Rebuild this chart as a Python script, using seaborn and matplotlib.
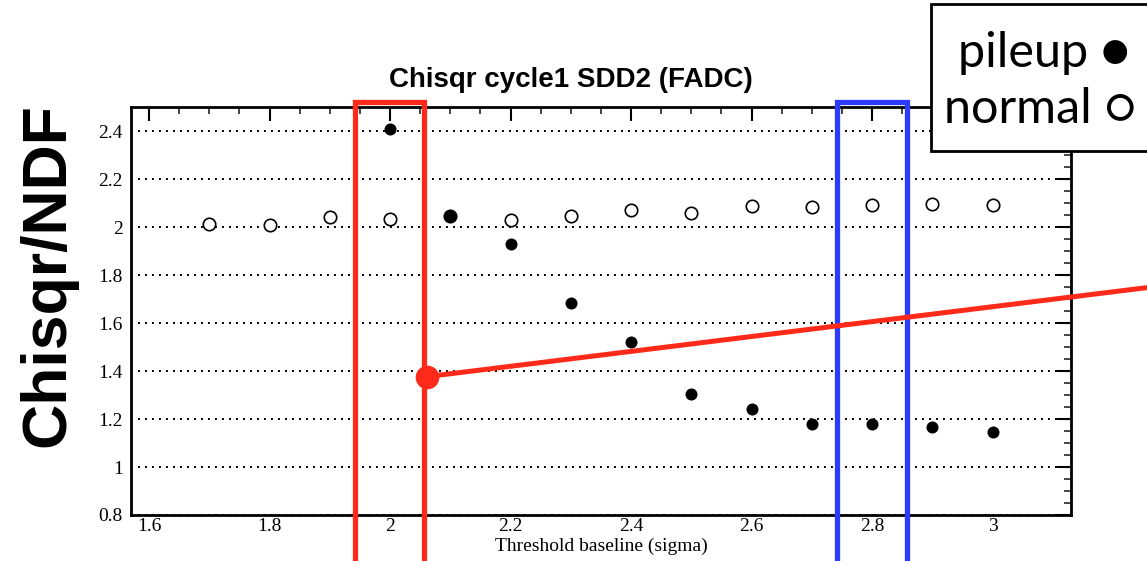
import numpy as np
import pandas as pd
import seaborn as sns
import matplotlib.pyplot as plt
from matplotlib.patches import Rectangle
from matplotlib.ticker import MultipleLocator

# threshold values (sigma)
thr_pileup = [2.0, 2.1, 2.2, 2.3, 2.4, 2.5, 2.6, 2.7, 2.8, 2.9, 3.0]
chi_pileup = [2.41, 2.048, 1.93, 1.685, 1.52, 1.306, 1.243, 1.18, 1.18, 1.168, 1.147]

thr_normal = [1.7, 1.8, 1.9, 2.0, 2.1, 2.2, 2.3, 2.4, 2.5, 2.6, 2.7, 2.8, 2.9, 3.0]
chi_normal = [2.014, 2.01, 2.043, 2.035, 2.048, 2.03, 2.048, 2.07, 2.06, 2.09, 2.085, 2.093, 2.097, 2.093]

# highlight boxes / arrow line (data coords)
red_box = (1.941, 2.057)
blue_box = (2.742, 2.858)
box_top = 2.522
red_line_x = [2.062, 3.257]
red_line_y = [1.377, 1.748]

df_p = pd.DataFrame({'thr': thr_pileup, 'chi': chi_pileup})
df_n = pd.DataFrame({'thr': thr_normal, 'chi': chi_normal})

sns.set_style("white")
plt.rcParams['font.family'] = ['Liberation Serif', 'DejaVu Serif']
plt.rcParams['text.color'] = 'black'
plt.rcParams['axes.labelcolor'] = 'black'

fig = plt.figure(figsize=(11.47, 5.61), dpi=100)
ax = fig.add_axes([0.1142, 0.082, 0.8195, 0.727])

sns.scatterplot(data=df_n, x='thr', y='chi', ax=ax, marker='o', s=80,
                color='white', edgecolor='black', linewidth=1.2, zorder=3)
sns.scatterplot(data=df_p, x='thr', y='chi', ax=ax, marker='o', s=75,
                color='black', edgecolor='black', linewidth=0, zorder=4)

ax.set_xlim(1.57, 3.13)
ax.set_ylim(0.8, 2.5)
ax.xaxis.set_minor_locator(MultipleLocator(0.05))
ax.yaxis.set_minor_locator(MultipleLocator(0.05))
ax.set_xticks(np.arange(1.6, 3.01, 0.2))
ax.set_xticklabels(['1.6', '1.8', '2', '2.2', '2.4', '2.6', '2.8', '3'])
ax.set_yticks(np.arange(0.8, 2.41, 0.2))
ax.set_yticklabels(['0.8', '1', '1.2', '1.4', '1.6', '1.8', '2', '2.2', '2.4'])

ax.tick_params(which='major', direction='in', top=True, right=True, length=10,
               width=1.5, labelsize=14, colors='black')
ax.tick_params(axis='x', which='major', pad=2)
ax.tick_params(axis='y', which='major', pad=6)
ax.tick_params(which='minor', direction='in', top=True, right=True, length=5,
               width=1.2)
ax.yaxis.grid(True, color='black', linestyle=(0, (1, 2.6)), linewidth=1.4)
ax.xaxis.grid(False)
for sp in ax.spines.values():
    sp.set_linewidth(2)
    sp.set_color('black')

ax.set_xlabel('Threshold baseline (sigma)', fontsize=14, labelpad=2)
ax.set_ylabel('')

fig.text(0.498, 1 - 80 / 561, 'Chisqr cycle1 SDD2 (FADC)', fontsize=20, fontweight='bold',
         family=['Liberation Sans', 'DejaVu Sans'], ha='center', va='center')
fig.text(0.042, 0.51, 'Chisqr/NDF', rotation=90, fontsize=45, fontweight='bold',
         family=['Liberation Sans', 'DejaVu Sans'], ha='center', va='center')

# highlight overlays
for (x0, x1), col in [(red_box, '#ff2a1a'), (blue_box, '#2b3bff')]:
    ax.add_patch(Rectangle((x0, 0.0), x1 - x0, box_top, fill=False, edgecolor=col,
                           linewidth=3.8, clip_on=False, zorder=6))
ax.plot(red_line_x, red_line_y, color='#ff2a1a', linewidth=3.6, clip_on=False, zorder=7)
ax.plot(red_line_x[:1], red_line_y[:1], 'o', color='#ff2a1a', markersize=16,
        clip_on=False, zorder=8)

# legend box
fig.add_artist(Rectangle((0.8115, 0.731), 0.25, 0.262, transform=fig.transFigure,
                         facecolor='white', edgecolor='black', linewidth=2, zorder=10))
fig.text(0.835, 0.905, 'pileup \u25cf', fontsize=35, family=['Lato', 'DejaVu Sans'],
         ha='left', va='center', zorder=11)
fig.text(0.823, 0.805, 'normal \u25cb', fontsize=35, family=['Lato', 'DejaVu Sans'],
         ha='left', va='center', zorder=11)

fig.savefig('out.png', dpi=100)
